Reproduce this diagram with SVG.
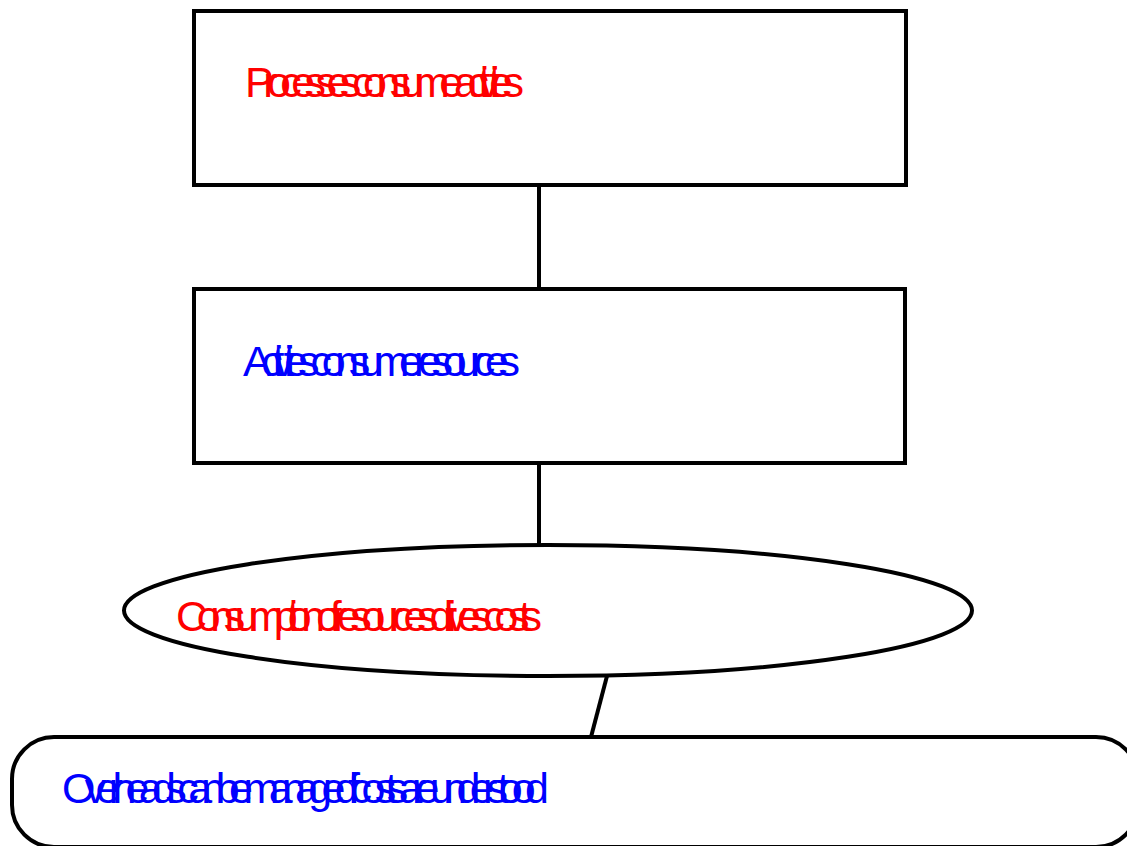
<svg xmlns="http://www.w3.org/2000/svg" width="1127" height="846" viewBox="0 0 1127 846">
  <style>
    .shape { fill: #ffffff; stroke: #000000; stroke-width: 4; }
    .link { stroke: #000000; stroke-width: 4; fill: none; }
    .label { font-family: "Liberation Sans", Arial, sans-serif; font-size: 43px; }
    .red { fill: #ff0000; }
    .blue { fill: #0000ff; }
  </style>
  <rect width="1127" height="846" fill="#ffffff"/>

  <g id="connectors">
    <line class="link" x1="539" y1="185" x2="539" y2="289"/>
    <line class="link" x1="539" y1="463" x2="539" y2="545"/>
    <line class="link" x1="607" y1="676" x2="591" y2="737"/>
  </g>

  <g id="processes">
    <rect class="shape" x="194" y="11" width="712" height="174"/>
    <text class="label red" x="245" y="97" textLength="279" lengthAdjust="spacing">Processes consume activities</text>
  </g>

  <g id="activities">
    <rect class="shape" x="194" y="289" width="711" height="174"/>
    <text class="label blue" x="243" y="376" textLength="277" lengthAdjust="spacing">Activities consume resources</text>
  </g>

  <g id="consumption">
    <ellipse class="shape" cx="548" cy="610.5" rx="424" ry="65.5"/>
    <text class="label red" x="176" y="631" textLength="366" lengthAdjust="spacing">Consumption of resources drives costs</text>
  </g>

  <g id="overheads">
    <rect class="shape" x="12" y="737" width="1126" height="110" rx="42" ry="42"/>
    <text class="label blue" x="62" y="803" textLength="487" lengthAdjust="spacing">Overheads can be managed if costs are understood</text>
  </g>
</svg>
